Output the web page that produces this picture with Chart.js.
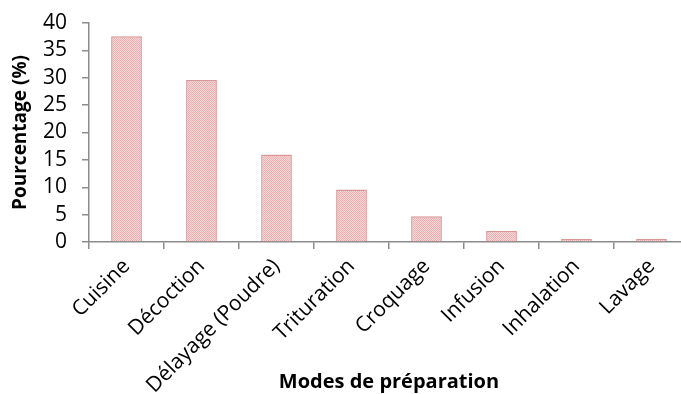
<!DOCTYPE html>
<html>
<head>
<meta charset="utf-8">
<script src="https://cdn.jsdelivr.net/npm/chart.js@4.4.1/dist/chart.umd.min.js"></script>
<style>
    html, body { margin: 0; padding: 0; background: #fff; overflow: hidden; }
    #wrap { position: relative; width: 700px; height: 394px; }
</style>
</head>
<body>
<div id="wrap"><canvas id="prepChart"></canvas></div>
<script>
(function () {
    const categories = ['Cuisine', 'Décoction', 'Délayage (Poudre)', 'Trituration', 'Croquage', 'Infusion', 'Inhalation', 'Lavage'];
    const percentages = [37.6, 29.6, 16.0, 9.6, 4.7, 2.0, 0.6, 0.6];
    const yTicks = [0, 5, 10, 15, 20, 25, 30, 35, 40];

    // Fine pink checker tile, like the Excel pattern fill
    function makePattern() {
        const tile = document.createElement('canvas');
        tile.width = 2;
        tile.height = 2;
        const t = tile.getContext('2d');
        t.fillStyle = '#f8dada';
        t.fillRect(0, 0, 2, 2);
        t.fillStyle = '#ecaeae';
        t.fillRect(0, 0, 1, 1);
        t.fillRect(1, 1, 1, 1);
        return t.createPattern(tile, 'repeat');
    }

    const axisColor = '#8c8c8c';
    const font = "'Open Sans', sans-serif";
    const ctx = document.getElementById('prepChart').getContext('2d');

    new Chart(ctx, {
        type: 'bar',
        data: {
            labels: categories,
            datasets: [{
                data: percentages,
                backgroundColor: makePattern(),
                borderColor: '#d99696',
                borderWidth: 1.5,
                borderSkipped: 'bottom',
                categoryPercentage: 1,
                barPercentage: 0.41
            }]
        },
        options: {
            responsive: true,
            maintainAspectRatio: false,
            animation: false,
            layout: { padding: { top: 23, right: 11, left: 0, bottom: 0 } },
            plugins: { legend: { display: false }, tooltip: { enabled: false } },
            scales: {
                x: {
                    offset: true,
                    border: { color: axisColor, width: 1.5 },
                    grid: { display: true, drawOnChartArea: false, tickLength: 7, color: axisColor, lineWidth: 1.5, offset: true },
                    ticks: {
                        color: '#000',
                        font: { family: font, size: 21 },
                        maxRotation: 45,
                        minRotation: 45,
                        autoSkip: false,
                        padding: 5,
                        labelOffset: 0
                    },
                    title: {
                        display: true,
                        text: 'Modes de préparation',
                        color: '#000',
                        font: { family: font, size: 20, weight: 'bold' },
                        padding: { top: 0, bottom: 0 }
                    },
                    afterFit: function (scale) { scale.height = 152; }
                },
                y: {
                    min: 0,
                    max: 40,
                    afterBuildTicks: function (scale) { scale.ticks = yTicks.map(v => ({ value: v })); },
                    border: { color: axisColor, width: 1.5 },
                    grid: { display: true, drawOnChartArea: false, tickLength: 7, color: axisColor, lineWidth: 1.5 },
                    ticks: {
                        color: '#000',
                        font: { family: font, size: 21 },
                        autoSkip: false,
                        padding: 15
                    },
                    title: {
                        display: true,
                        text: 'Pourcentage (%)',
                        color: '#000',
                        font: { family: font, size: 19, weight: 'bold' },
                        padding: { top: 9, bottom: 0 }
                    },
                    afterFit: function (scale) {
                        scale.width = 89;
                        scale.paddingTop = 0;
                        scale.paddingBottom = 0;
                    }
                }
            }
        }
    });
})();
</script>
</body>
</html>
